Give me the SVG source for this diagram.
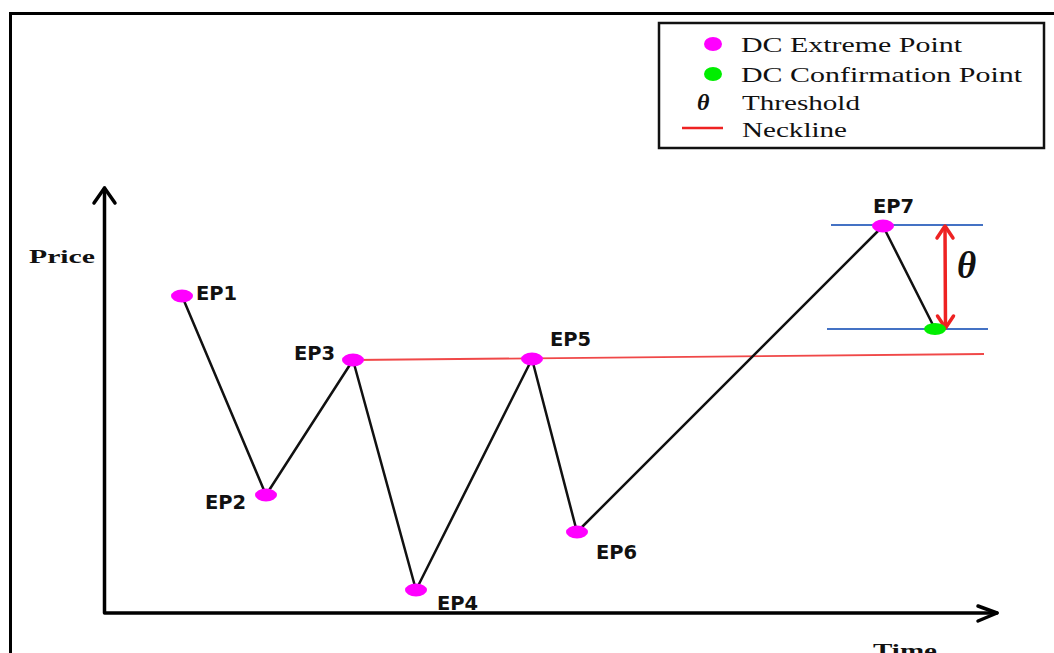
<svg xmlns="http://www.w3.org/2000/svg" width="1054" height="653" viewBox="0 0 1054 653">
<defs>
<style>
.ep{fill:#FF00FF}
.cp{fill:#00EE00}
.lbl{font-family:"DejaVu Sans",sans-serif;font-weight:bold;font-size:19.5px;fill:#111}
.leg{font-family:"Liberation Serif",serif;font-size:21px;fill:#111}
.ax{font-family:"Liberation Serif",serif;font-weight:bold;font-size:19px;fill:#111}
.theta{font-family:"Liberation Serif",serif;font-style:italic;font-weight:bold;fill:#111}
</style>
</defs>
<rect width="1054" height="653" fill="#fff"/>
<g id="frame" fill="none" stroke="#000" stroke-width="3">
<polyline points="10.5,653 10.5,13.5 1054,13.5"/>
</g>
<g id="legend">
<rect x="659" y="23" width="385" height="125" fill="#fff" stroke="#111" stroke-width="2.5"/>
<ellipse cx="713" cy="44" rx="9" ry="7" class="ep"/>
<ellipse cx="713" cy="74" rx="9" ry="7" class="cp"/>
<text x="697" y="110" class="theta" font-size="24">θ</text>
<line x1="682" y1="128" x2="723" y2="128" stroke="#EE2222" stroke-width="2.5"/>
<text x="741" y="52" class="leg" textLength="221" lengthAdjust="spacingAndGlyphs">DC Extreme Point</text>
<text x="741" y="82" class="leg" textLength="281" lengthAdjust="spacingAndGlyphs">DC Confirmation Point</text>
<text x="742" y="110" class="leg" textLength="118" lengthAdjust="spacingAndGlyphs">Threshold</text>
<text x="742" y="137" class="leg" textLength="105" lengthAdjust="spacingAndGlyphs">Neckline</text>
</g>
<g id="axes" fill="none" stroke="#000" stroke-width="3.5" stroke-linecap="round" stroke-linejoin="round">
<polyline points="104.5,188 104.5,613 997,613"/>
<polyline points="94,203 104.5,188 115,203"/>
<polyline points="978,606 997,613 978,621"/>
</g>
<text x="29" y="263" class="ax" textLength="66" lengthAdjust="spacingAndGlyphs">Price</text>
<text x="873" y="657" class="ax" font-size="22" textLength="64" lengthAdjust="spacingAndGlyphs">Time</text>
<g id="connectors" fill="none">
<line x1="353" y1="360" x2="984" y2="354" stroke="#F04848" stroke-width="1.8"/>
<line x1="831" y1="225" x2="983" y2="225" stroke="#4472C4" stroke-width="2"/>
<line x1="827" y1="329" x2="988" y2="329" stroke="#4472C4" stroke-width="2"/>
<polyline points="182,296 266,495 353,360 416,590 532,359 577,532 883,226 935,329" stroke="#111" stroke-width="2.5" stroke-linejoin="round"/>
<g stroke="#EE2222" stroke-width="3.5" stroke-linecap="round" stroke-linejoin="round">
<line x1="945" y1="227" x2="945.5" y2="327"/>
<polyline points="937,238 945,226 953,238"/>
<polyline points="937.5,316 945.5,328 953.5,316"/>
</g>
</g>
<text x="957" y="278" class="theta" font-size="37" font-weight="normal">θ</text>
<g id="EP1"><ellipse cx="182" cy="296" rx="11" ry="6.5" class="ep"/><text x="196" y="300" class="lbl">EP1</text></g>
<g id="EP2"><ellipse cx="266" cy="495" rx="11" ry="6.5" class="ep"/><text x="205" y="509" class="lbl">EP2</text></g>
<g id="EP3"><ellipse cx="353" cy="360" rx="11" ry="6.5" class="ep"/><text x="294" y="360" class="lbl">EP3</text></g>
<g id="EP4"><ellipse cx="416" cy="590" rx="11" ry="6.5" class="ep"/><text x="437" y="610" class="lbl">EP4</text></g>
<g id="EP5"><ellipse cx="532" cy="359" rx="11" ry="6.5" class="ep"/><text x="550" y="346" class="lbl">EP5</text></g>
<g id="EP6"><ellipse cx="577" cy="532" rx="11" ry="6.5" class="ep"/><text x="596" y="559" class="lbl">EP6</text></g>
<g id="EP7"><ellipse cx="883" cy="226" rx="11" ry="6.5" class="ep"/><text x="873" y="213" class="lbl">EP7</text></g>
<g id="CP"><ellipse cx="935" cy="329" rx="11" ry="6" class="cp"/></g>
</svg>
